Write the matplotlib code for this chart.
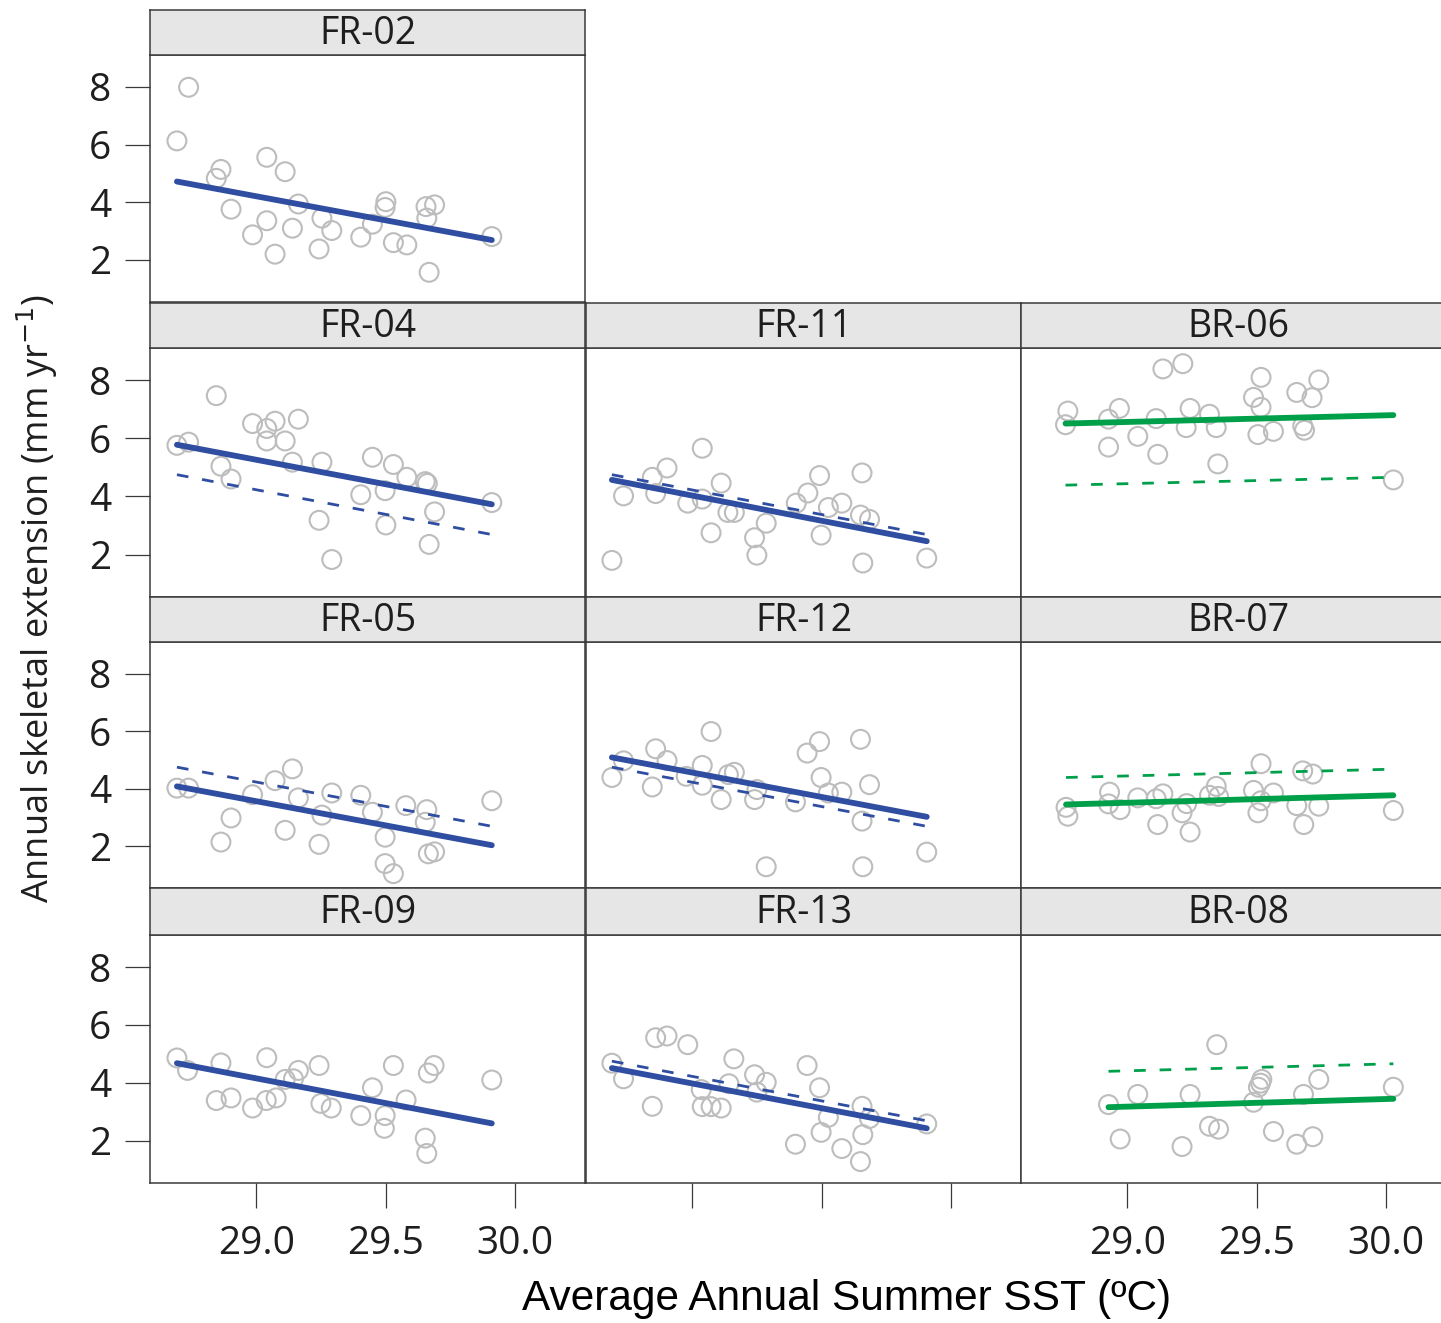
import matplotlib
matplotlib.use("Agg")
import matplotlib.pyplot as plt

# ---- data: summer SST (x) vs annual extension (y) per coral core ----
FR02_X = [28.739, 28.694, 28.864, 28.846, 28.903, 29.041, 29.112, 28.986, 29.041, 29.073,
          29.140, 29.163, 29.254, 29.292, 29.243, 29.404, 29.449, 29.501, 29.498, 29.530,
          29.582, 29.656, 29.689, 29.659, 29.668, 29.910]
FR02_Y = [7.99, 6.13, 5.14, 4.83, 3.76, 5.56, 5.06, 2.87, 3.36, 2.20,
          3.10, 3.94, 3.45, 3.02, 2.38, 2.79, 3.24, 4.02, 3.82, 2.60,
          2.52, 3.85, 3.91, 3.45, 1.57, 2.81]

FR04_X = [28.694, 28.739, 28.846, 28.864, 28.903, 28.986, 29.041, 29.073, 29.041, 29.112,
          29.163, 29.140, 29.254, 29.243, 29.292, 29.404, 29.449, 29.498, 29.501, 29.530,
          29.582, 29.653, 29.661, 29.689, 29.668, 29.910]
FR04_Y = [5.76, 5.87, 7.47, 5.04, 4.60, 6.51, 6.34, 6.59, 5.91, 5.91,
          6.66, 5.18, 5.18, 3.18, 1.83, 4.06, 5.35, 4.20, 3.02, 5.10,
          4.66, 4.51, 4.45, 3.47, 2.35, 3.79]

FR11_X = [28.690, 28.735, 28.846, 28.859, 28.903, 28.983, 29.039, 29.039, 29.073, 29.112,
          29.138, 29.163, 29.241, 29.250, 29.286, 29.402, 29.447, 29.492, 29.498, 29.526,
          29.578, 29.650, 29.656, 29.685, 29.659, 29.906]
FR11_Y = [1.80, 4.02, 4.66, 4.10, 4.98, 3.77, 5.66, 3.91, 2.75, 4.46,
          3.45, 3.45, 2.58, 1.98, 3.08, 3.77, 4.12, 4.72, 2.67, 3.62,
          3.77, 3.36, 4.81, 3.21, 1.71, 1.88]

BR06_X = [28.771, 28.762, 28.928, 28.970, 28.928, 29.041, 29.112, 29.118, 29.138, 29.215,
          29.243, 29.228, 29.318, 29.344, 29.350, 29.488, 29.517, 29.517, 29.505, 29.565,
          29.655, 29.740, 29.714, 29.678, 29.685, 30.028]
BR06_Y = [6.94, 6.47, 6.66, 7.03, 5.70, 6.07, 6.68, 5.45, 8.39, 8.57,
          7.03, 6.37, 6.83, 6.37, 5.12, 7.41, 8.10, 7.07, 6.13, 6.24,
          7.58, 8.01, 7.40, 6.43, 6.28, 4.57]

FR05_X = [28.694, 28.739, 28.864, 28.903, 28.986, 29.073, 29.112, 29.140, 29.163, 29.254,
          29.243, 29.292, 29.404, 29.449, 29.498, 29.498, 29.530, 29.578, 29.659, 29.653,
          29.665, 29.689, 29.910]
FR05_Y = [4.02, 4.02, 2.14, 2.98, 3.79, 4.28, 2.55, 4.69, 3.68, 3.08,
          2.06, 3.85, 3.77, 3.18, 2.31, 1.39, 1.04, 3.41, 3.27, 2.83,
          1.73, 1.80, 3.58]

FR12_X = [28.690, 28.735, 28.846, 28.859, 28.903, 28.977, 29.039, 29.039, 29.073, 29.112,
          29.140, 29.163, 29.241, 29.250, 29.286, 29.399, 29.444, 29.492, 29.498, 29.526,
          29.578, 29.650, 29.685, 29.656, 29.659, 29.906]
FR12_Y = [4.39, 4.97, 4.06, 5.39, 4.98, 4.43, 4.81, 4.12, 5.99, 3.62,
          4.49, 4.57, 3.62, 3.97, 1.28, 3.54, 5.24, 5.64, 4.39, 3.85,
          3.88, 5.72, 4.14, 2.87, 1.28, 1.79]

BR07_X = [28.764, 28.771, 28.932, 28.928, 28.973, 29.041, 29.112, 29.138, 29.118, 29.230,
          29.212, 29.243, 29.344, 29.318, 29.353, 29.488, 29.517, 29.517, 29.505, 29.565,
          29.655, 29.682, 29.678, 29.717, 29.740, 30.028]
BR07_Y = [3.35, 3.04, 3.88, 3.47, 3.27, 3.68, 3.65, 3.82, 2.75, 3.48,
          3.16, 2.49, 4.08, 3.77, 3.73, 3.94, 4.87, 3.58, 3.16, 3.85,
          3.41, 2.75, 4.62, 4.51, 3.39, 3.24]

FR09_X = [28.694, 28.735, 28.846, 28.864, 28.903, 28.986, 29.041, 29.039, 29.077, 29.112,
          29.144, 29.163, 29.243, 29.250, 29.290, 29.404, 29.449, 29.498, 29.495, 29.530,
          29.579, 29.665, 29.687, 29.653, 29.659, 29.910]
FR09_Y = [4.86, 4.43, 3.39, 4.69, 3.48, 3.13, 4.87, 3.39, 3.48, 4.12,
          4.14, 4.43, 4.60, 3.29, 3.13, 2.87, 3.83, 2.87, 2.43, 4.60,
          3.41, 4.34, 4.60, 2.09, 1.56, 4.10]

FR13_X = [28.690, 28.735, 28.846, 28.859, 28.903, 28.983, 29.035, 29.039, 29.073, 29.112,
          29.142, 29.161, 29.241, 29.250, 29.286, 29.399, 29.444, 29.492, 29.498, 29.526,
          29.578, 29.656, 29.685, 29.659, 29.650, 29.906]
FR13_Y = [4.68, 4.14, 3.19, 5.56, 5.62, 5.32, 3.77, 3.18, 3.18, 3.13,
          3.97, 4.83, 4.28, 3.68, 4.02, 1.88, 4.60, 3.83, 2.29, 2.81,
          1.73, 3.19, 2.77, 2.21, 1.28, 2.58]

BR08_X = [28.928, 28.973, 29.041, 29.212, 29.243, 29.318, 29.353, 29.346, 29.488, 29.507,
          29.515, 29.520, 29.565, 29.655, 29.681, 29.717, 29.740, 30.028]
BR08_Y = [3.25, 2.06, 3.60, 1.80, 3.60, 2.50, 2.40, 5.32, 3.33, 3.85,
          3.99, 4.12, 2.32, 1.88, 3.60, 2.14, 4.12, 3.85]

# fitted line (y at first and last SST of each core) and reference line
FR02_FIT, FR02_REF = (4.72, 2.69), None
FR04_FIT, FR04_REF = (5.78, 3.73), (4.75, 2.69)
FR11_FIT, FR11_REF = (4.57, 2.46), (4.75, 2.69)
BR06_FIT, BR06_REF = (6.51, 6.80), (4.39, 4.66)
FR05_FIT, FR05_REF = (4.08, 2.03), (4.75, 2.69)
FR12_FIT, FR12_REF = (5.09, 3.02), (4.75, 2.69)
BR07_FIT, BR07_REF = (3.45, 3.77), (4.39, 4.68)
FR09_FIT, FR09_REF = (4.68, 2.60), None
FR13_FIT, FR13_REF = (4.51, 2.43), (4.75, 2.69)
BR08_FIT, BR08_REF = (3.16, 3.45), (4.40, 4.66)

BLUE = "#2f4ea1"
GREEN = "#00a04a"

# (name, x, y, fit, ref, colour, row, col)
panels = [
    ("FR-02", FR02_X, FR02_Y, FR02_FIT, FR02_REF, BLUE, 0, 0),
    ("FR-04", FR04_X, FR04_Y, FR04_FIT, FR04_REF, BLUE, 1, 0),
    ("FR-11", FR11_X, FR11_Y, FR11_FIT, FR11_REF, BLUE, 1, 1),
    ("BR-06", BR06_X, BR06_Y, BR06_FIT, BR06_REF, GREEN, 1, 2),
    ("FR-05", FR05_X, FR05_Y, FR05_FIT, FR05_REF, BLUE, 2, 0),
    ("FR-12", FR12_X, FR12_Y, FR12_FIT, FR12_REF, BLUE, 2, 1),
    ("BR-07", BR07_X, BR07_Y, BR07_FIT, BR07_REF, GREEN, 2, 2),
    ("FR-09", FR09_X, FR09_Y, FR09_FIT, FR09_REF, BLUE, 3, 0),
    ("FR-13", FR13_X, FR13_Y, FR13_FIT, FR13_REF, BLUE, 3, 1),
    ("BR-08", BR08_X, BR08_Y, BR08_FIT, BR08_REF, GREEN, 3, 2),
]

W, H = 1441, 1323
fig = plt.figure(figsize=(W / 100, H / 100), dpi=100)

col_left = [150, 586, 1021]
col_w = 435
row_strip = [(10, 55), (303, 348), (597, 642), (888, 935)]
row_panel = [(55, 302), (348, 597), (642, 888), (935, 1183)]

def px_rect(x0, y0, x1, y1):
    return [x0 / W, 1 - y1 / H, (x1 - x0) / W, (y1 - y0) / H]

TICK_FONT = "Open Sans"
EDGE = "#3a3a3a"

for name, xs, ys, fit, ref, colr, r, c in panels:
    x0 = col_left[c]
    ax = fig.add_axes(px_rect(x0, row_panel[r][0], x0 + col_w, row_panel[r][1]))
    ax.scatter(xs, ys, s=185, facecolors="none", edgecolors="#bdbdbd", linewidths=1.5, zorder=2)
    xr = [min(xs), max(xs)]
    ax.plot(xr, list(fit), color=colr, lw=4.2, solid_capstyle="round", zorder=3)
    if ref is not None:
        ax.plot(xr, list(ref), color=colr, lw=2.0, dashes=(4.2, 5.0), zorder=3)
    ax.set_xlim(28.59, 30.27)
    ax.set_ylim(0.54, 9.11)
    for sp in ax.spines.values():
        sp.set_color(EDGE)
        sp.set_linewidth(1.1)
    ax.set_yticks([2, 4, 6, 8])
    ax.set_xticks([29.0, 29.5, 30.0])
    ax.tick_params(length=18, width=0.9, color=EDGE, pad=10, labelsize=28,
                   labelcolor="#1e1e1e")
    ax.tick_params(axis="x", pad=12)
    if c != 0:
        ax.tick_params(axis="y", left=False, labelleft=False)
    if r != 3:
        ax.tick_params(axis="x", bottom=False, labelbottom=False)
    elif c == 1:
        ax.tick_params(axis="x", labelbottom=False)
    else:
        ax.set_xticklabels(["29.0", "29.5", "30.0"])
    for lab in ax.get_xticklabels() + ax.get_yticklabels():
        lab.set_fontfamily(TICK_FONT)

    # strip with core name
    sax = fig.add_axes(px_rect(x0, row_strip[r][0], x0 + col_w, row_strip[r][1]))
    sax.set_facecolor("#e6e6e6")
    sax.set_xticks([])
    sax.set_yticks([])
    for sp in sax.spines.values():
        sp.set_color(EDGE)
        sp.set_linewidth(1.1)
    sax.text(0.5, 0.46, name, ha="center", va="center", fontsize=27,
             family=TICK_FONT, color="#1e1e1e", transform=sax.transAxes)

fig.text(37 / W, 1 - 598 / H, "Annual skeletal extension (mm yr$^{-1}$)", rotation=90,
         ha="center", va="center", fontsize=26, family=TICK_FONT, color="#1e1e1e")
fig.text(847 / W, 1 - 1299 / H, "Average Annual Summer SST (ºC)", ha="center", va="center",
         fontsize=30.5, family="Liberation Sans", color="black")

fig.savefig("out.png", dpi=100)
